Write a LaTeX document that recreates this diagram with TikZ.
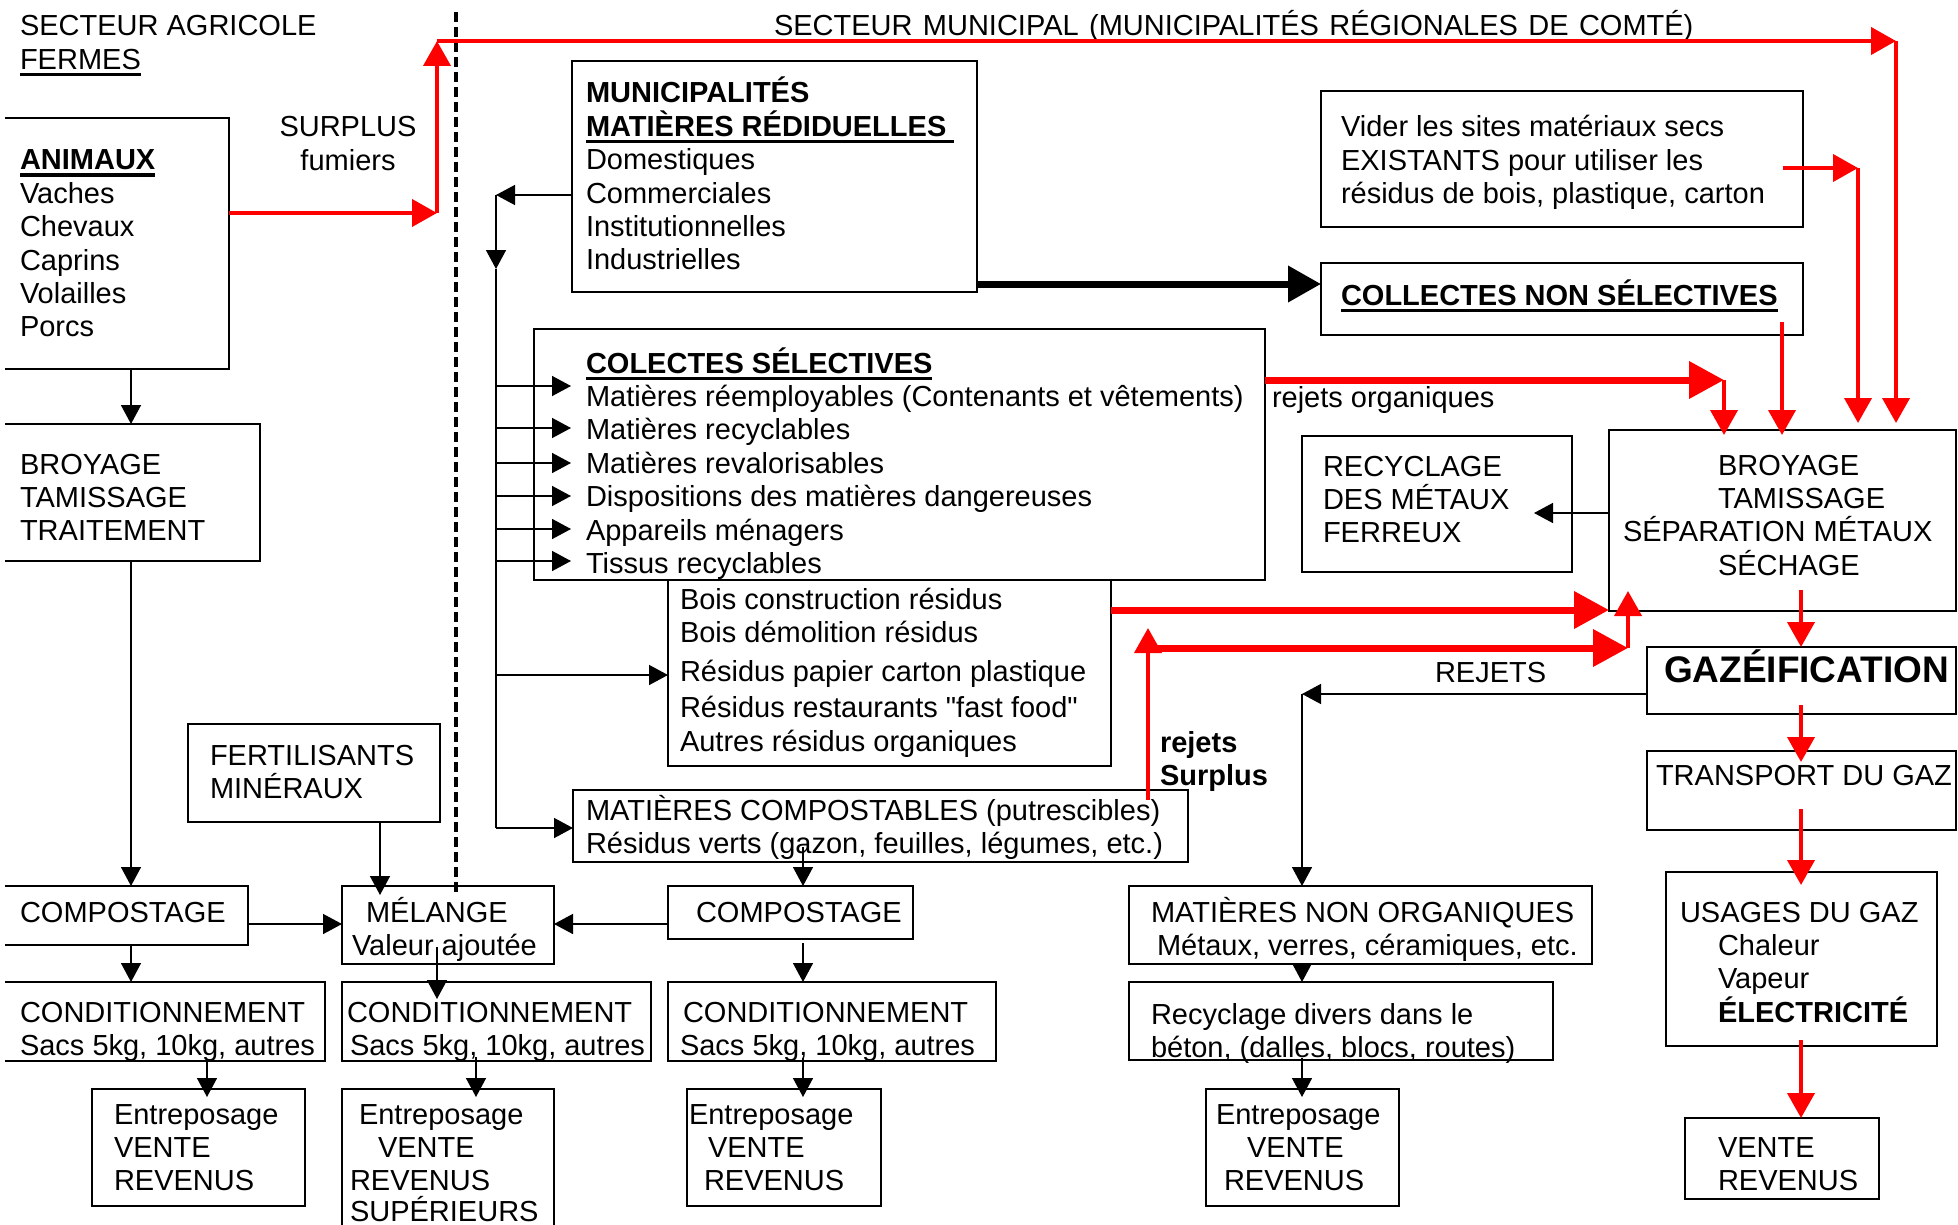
\documentclass[tikz,border=0pt]{standalone}
\usepackage{fontspec}
\setmainfont{Liberation Sans}[Ligatures=TeXOff]
\usetikzlibrary{arrows.meta,fit}
\definecolor{rd}{RGB}{255,0,0}
\newcommand\myul[2][3]{\setbox0\hbox{#2}\rlap{\rule[-7pt]{\wd0}{#1pt}}\box0}
\newcommand\mylines[1]{\vtop{\lineskiplimit=-100pt\lineskip=0pt\halign{##\hfil\cr#1\crcr}}}
\newcommand\mycenter[1]{\vtop{\lineskiplimit=-100pt\lineskip=0pt\halign{\hfil##\hfil\cr#1\crcr}}}
\begin{document}
\begin{tikzpicture}[x=1pt,y=-1pt,
 bx/.style={draw,line width=1.6pt,inner sep=0pt,outer sep=0pt,fit={#1}},
 ob/.style={inner sep=0pt,outer sep=0pt,fit={#1}},
 tx/.style={inner sep=0pt,outer sep=0pt,anchor=base west,font=\fontsize{29}{33.4}\selectfont},
 edge3/.style={line width=1.6pt},
 ln/.style={line width=1.5pt},
 ar/.style={line width=1.5pt,-{Triangle[length=19pt,width=20pt]}},
 rt/.style={draw=rd,line width=4pt,-{Triangle[length=25pt,width=27pt]}},
 rk/.style={draw=rd,line width=7pt,-{Triangle[length=35pt,width=36pt]}},
 bk/.style={line width=7pt,-{Triangle[length=33pt,width=35pt]}},
 sep/.style={line width=4pt,dash pattern=on 10pt off 5pt}]
\useasboundingbox (0,0) rectangle (1958,1225);

% ---------- boxes ----------
\node[ob={(5,118) (229,369)}] (animaux) {};
\node[ob={(5,424) (260,561)}] (brtr) {};
\node[ob={(5,886) (248,945)}] (comp1) {};
\node[ob={(5,982) (325,1061)}] (cond1) {};
\foreach \n in {animaux,brtr,comp1,cond1}
  \draw[edge3] (\n.north west) -- (\n.north east) -- (\n.south east) -- (\n.south west);
\node[bx={(92,1089) (305,1206)}] (ent1) {};
\node[bx={(188,724) (440,822)}] (fert) {};
\node[bx={(342,886) (554,964)}] (melange) {};
\node[bx={(342,982) (651,1061)}] (cond2) {};
\node[bx={(342,1089) (554,1240)}] (ent2) {};
\node[bx={(572,61) (977,292)}] (muni) {};
\node[bx={(534,329) (1265,580)}] (colectes) {};
\node[bx={(668,580) (1111,766)}] (bois) {};
\node[bx={(573,790) (1188,862)}] (matcomp) {};
\node[bx={(668,886) (913,939)}] (comp2) {};
\node[bx={(668,982) (996,1061)}] (cond3) {};
\node[bx={(687,1089) (881,1206)}] (ent3) {};
\node[bx={(1321,91) (1803,227)}] (vider) {};
\node[bx={(1321,263) (1803,335)}] (nonsel) {};
\node[bx={(1302,436) (1572,572)}] (recmet) {};
\node[bx={(1609,430) (1956,611)}] (broy) {};
\node[bx={(1647,647) (1956,714)}] (gaz) {};
\node[bx={(1647,751) (1956,830)}] (transp) {};
\node[bx={(1666,872) (1937,1046)}] (usages) {};
\node[bx={(1685,1118) (1879,1199)}] (vente) {};
\node[bx={(1129,886) (1592,964)}] (matnon) {};
\node[bx={(1129,982) (1553,1060)}] (recdiv) {};
\node[bx={(1206,1089) (1399,1206)}] (ent4) {};

% ---------- texts ----------
\begin{scope}[yshift=-2pt]
\node[tx] (t-hdr1) at (20,34) {\mylines{SECTEUR AGRICOLE\cr\myul{FERMES}}};
\node[tx] (t-hdr2) at (774,34) {\spaceskip=10.4pt SECTEUR MUNICIPAL (MUNICIPALITÉS RÉGIONALES DE COMTÉ)};
\node[tx,anchor=base] (t-surplus) at (348,135) {\mycenter{SURPLUS\cr fumiers}};
\node[tx] (t-animaux) at (20,168) {\mylines{\myul[3.5]{\bfseries ANIMAUX}\cr Vaches\cr Chevaux\cr Caprins\cr Volailles\cr Porcs}};
\node[tx] (t-brtr) at (20,472) {\mylines{BROYAGE\cr TAMISSAGE\cr TRAITEMENT}};
\node[tx] (t-comp1) at (20,920) {COMPOSTAGE};
\node[tx] (t-cond1) at (20,1020) {\mylines{CONDITIONNEMENT\cr Sacs 5kg, 10kg, autres}};
\node[tx] (t-ent1) at (114,1122) {\mylines{Entreposage\cr VENTE\cr REVENUS}};
\node[tx] (t-fert) at (210,763) {\mylines{FERTILISANTS\cr MINÉRAUX}};
\node[tx] (t-melange) at (352,920) {\mylines{\hspace*{14pt}MÉLANGE\cr Valeur ajoutée}};
\node[tx] (t-cond2) at (347,1020) {\mylines{CONDITIONNEMENT\cr\hspace*{3pt}Sacs 5kg, 10kg, autres}};
\node[tx] (t-ent2) at (350,1122) {\mylines{\hspace*{9pt}Entreposage\cr\hspace*{28pt}VENTE\cr REVENUS\cr\noalign{\kern-3pt} SUPÉRIEURS}};
\node[tx] (t-muni) at (586,101) {\mylines{\bfseries MUNICIPALITÉS\cr\myul[3.5]{\bfseries MATIÈRES RÉDIDUELLES\ }\cr Domestiques\cr Commerciales\cr Institutionnelles\cr Industrielles}};
\node[tx] (t-colectes) at (586,371) {\mylines{\myul[3.5]{\bfseries COLECTES SÉLECTIVES}\cr Matières réemployables (Contenants et vêtements)\cr Matières recyclables\cr Matières revalorisables\cr Dispositions des matières dangereuses\cr Appareils ménagers\cr Tissus recyclables}};
\node[tx] (t-bois) at (680,607) {\mylines{Bois construction résidus\cr Bois démolition résidus\cr\noalign{\kern6pt} Résidus papier carton plastique\cr\noalign{\kern2pt} Résidus restaurants "fast food"\cr\noalign{\kern1pt} Autres résidus organiques}};
\node[tx] (t-matcomp) at (586,818) {\mylines{MATIÈRES COMPOSTABLES (putrescibles)\cr Résidus verts (gazon, feuilles, légumes, etc.)}};
\node[tx] (t-comp2) at (696,920) {COMPOSTAGE};
\node[tx] (t-cond3) at (680,1020) {\mylines{\hspace*{3pt}CONDITIONNEMENT\cr Sacs 5kg, 10kg, autres}};
\node[tx] (t-ent3) at (689,1122) {\mylines{Entreposage\cr\hspace*{19pt}VENTE\cr\hspace*{15pt}REVENUS}};
\node[tx] (t-vider) at (1341,135) {\mylines{Vider les sites matériaux secs\cr EXISTANTS pour utiliser les\cr résidus de bois, plastique, carton}};
\node[tx] (t-nonsel) at (1341,303) {\myul[3.5]{\bfseries COLLECTES NON SÉLECTIVES}};
\node[tx] (t-rejorg) at (1272,405) {rejets organiques};
\node[tx] (t-recmet) at (1323,474) {\mylines{RECYCLAGE\cr DES MÉTAUX\cr FERREUX}};
\node[tx] (t-broy) at (1623,473) {\mylines{\hspace*{95pt}BROYAGE\cr\hspace*{95pt}TAMISSAGE\cr SÉPARATION MÉTAUX\cr\hspace*{95pt}SÉCHAGE}};
\node[tx] (t-rejsur) at (1160,750) {\mylines{\bfseries rejets\cr\bfseries Surplus}};
\node[tx] (t-rejets) at (1435,680) {REJETS};
\node[tx] (t-gaz) at (1664,680) {\fontsize{37}{40}\selectfont\bfseries GAZÉIFICATION};
\node[tx] (t-transp) at (1656,783) {TRANSPORT DU GAZ};
\node[tx] (t-usages) at (1680,920) {\mylines{USAGES DU GAZ\cr\hspace*{38pt}Chaleur\cr\hspace*{38pt}Vapeur\cr\hspace*{38pt}\bfseries ÉLECTRICITÉ}};
\node[tx] (t-vente) at (1718,1155) {\mylines{VENTE\cr REVENUS}};
\node[tx] (t-matnon) at (1151,920) {\mylines{MATIÈRES NON ORGANIQUES\cr\hspace*{6pt}Métaux, verres, céramiques, etc.}};
\node[tx] (t-recdiv) at (1151,1022) {\mylines{Recyclage divers dans le\cr béton, (dalles, blocs, routes)}};
\node[tx] (t-ent4) at (1216,1122) {\mylines{Entreposage\cr\hspace*{31pt}VENTE\cr\hspace*{8pt}REVENUS}};
\end{scope}

% ---------- separator ----------
\coordinate (divtop) at (456,12);
\coordinate (divbot) at (456,895);
\draw[sep] (divtop) -- (divbot);

% ---------- black connectors ----------
\draw[ar] (animaux.south -| 131,0) -- (brtr.north -| 131,0);
\draw[ar] (brtr.south -| 131,0) -- (comp1.north -| 131,0);
\draw[ar] (comp1.south -| 131,0) -- (cond1.north -| 131,0);
\draw[ar] (comp1.east |- 0,924) -- (melange.west |- 0,924);
\draw[ar,shorten >=-9pt] (fert.south -| 380,0) -- (melange.north -| 380,0);
\draw[ar] (comp2.west |- 0,924) -- (melange.east |- 0,924);
\draw[ar,shorten <=-17pt,shorten >=-17pt] (melange.south -| 437,0) -- (cond2.north -| 437,0);
\draw[ar,shorten >=-8pt] (cond1.south -| 207,0) -- (ent1.north -| 207,0);
\draw[ar,shorten <=-4pt,shorten >=-8pt] (cond2.south -| 476,0) -- (ent2.north -| 476,0);
\draw[ar,shorten <=-15pt] (matcomp.south -| 803,0) -- (comp2.north -| 803,0);
\draw[ar,shorten <=4pt] (comp2.south -| 803,0) -- (cond3.north -| 803,0);
\draw[ar,shorten <=-3pt,shorten >=-8pt] (cond3.south -| 803,0) -- (ent3.north -| 803,0);
\draw[ar,shorten <=-2pt] (matnon.south -| 1302,0) -- (recdiv.north -| 1302,0);
\draw[ar,shorten <=-2pt,shorten >=-8pt] (recdiv.south -| 1302,0) -- (ent4.north -| 1302,0);
\coordinate (rejc) at (1302,694);
\draw[ar] (gaz.west |- rejc) -- (rejc);
\draw[ar] (rejc) -- (matnon.north -| rejc);
\draw[ar,shorten >=-38pt] (broy.west |- 0,513) -- (recmet.east |- 0,513);
% feeder from municipalities
\coordinate (feedtop) at (496,195);
\coordinate (feedmid) at (496,269);
\coordinate (feedbot) at (496,828);
\draw[ar] (muni.west |- feedtop) -- (feedtop);
\draw[ar] (feedtop) -- (feedmid);
\draw[ln] (feedmid) -- (feedbot);
\foreach \yy in {386,428,463,496,529,561}
  \draw[ar,shorten >=-37pt] (feedtop |- 0,\yy) -- (colectes.west |- 0,\yy);
\draw[ar] (feedtop |- 0,675) -- (bois.west |- 0,675);
\draw[ar] (feedbot) -- (matcomp.west |- feedbot);
% thick black
\draw[bk] (muni.east |- 0,284) -- (nonsel.west |- 0,284);

% ---------- red connectors ----------
\coordinate (rc1) at (437,213);
\coordinate (rc2) at (437,41);
\coordinate (rc3) at (1896,41);
\draw[rt] (animaux.east |- rc1) -- (rc1);
\draw[rt] (rc1) -- (rc2);
\draw[rt] (rc2) -- (rc3);
\draw[rt,shorten >=7pt] (rc3) -- (broy.north -| rc3);
\coordinate (rv1) at (1783,168);
\coordinate (rv2) at (1858,168);
\draw[rt] (rv1) -- (rv2);
\draw[rt,shorten >=7pt] (rv2) -- (broy.north -| rv2);
\draw[rt,shorten <=-13pt,shorten >=-5pt] (nonsel.south -| 1782,0) -- (broy.north -| 1782,0);
\coordinate (ro) at (1724,380);
\draw[rk] (colectes.east |- ro) -- (ro);
\draw[rt,shorten >=-5pt] (ro) -- (broy.north -| ro);
\draw[rk] (bois.east |- 0,610) -- (broy.west |- 0,610);
\coordinate (rs1) at (1148,628);
\coordinate (rs0) at (1148,648);
\coordinate (rs2) at (1628,648);
\draw[rt,shorten <=-10pt] (matcomp.north -| rs1) -- (rs1);
\draw[rk] (rs0) -- (rs2);
\draw[rt,shorten >=-20pt] (rs2) -- (broy.south -| rs2);
\draw[rt,shorten <=-21pt] (broy.south -| 1801,0) -- (gaz.north -| 1801,0);
\draw[rt,shorten <=-9pt,shorten >=-11pt] (gaz.south -| 1801,0) -- (transp.north -| 1801,0);
\draw[rt,shorten <=-21pt,shorten >=-13pt] (transp.south -| 1801,0) -- (usages.north -| 1801,0);
\draw[rt,shorten <=-6pt] (usages.south -| 1801,0) -- (vente.north -| 1801,0);
\end{tikzpicture}
\end{document}
